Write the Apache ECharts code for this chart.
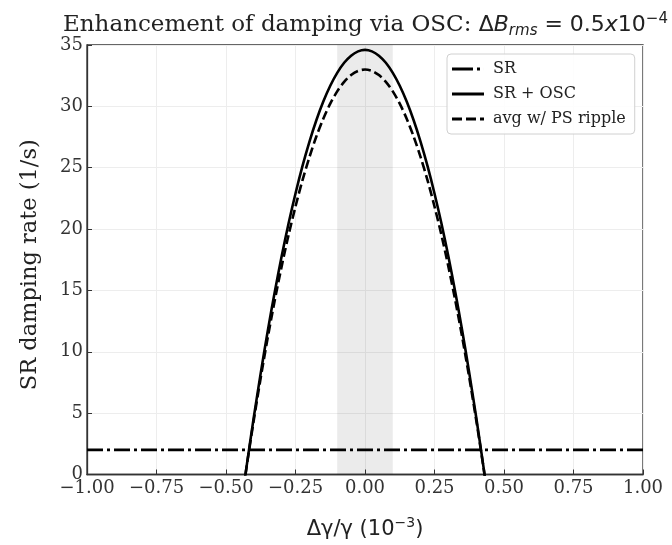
<!DOCTYPE html>
<html>
<head>
<meta charset="utf-8">
<script src="https://cdn.jsdelivr.net/npm/echarts@6/dist/echarts.min.js"></script>
<style>
html,body{margin:0;padding:0;background:#fff;}
#chart{width:672px;height:545px;}
</style>
</head>
<body>
<div id="chart"></div>
<script>
// ---- data ----
var xValues = [-0.45,-0.425,-0.4,-0.375,-0.35,-0.325,-0.3,-0.275,-0.25,-0.225,-0.2,-0.175,-0.15,-0.125,-0.1,-0.075,-0.05,-0.025,0,
  0.025,0.05,0.075,0.1,0.125,0.15,0.175,0.2,0.225,0.25,0.275,0.3,0.325,0.35,0.375,0.4,0.425,0.45];
var srOscValues = [-3.29,0.80,4.66,8.28,11.68,14.83,17.76,20.45,22.90,25.13,27.11,28.87,30.39,31.68,32.73,33.55,34.13,34.48,34.6,
  34.48,34.13,33.55,32.73,31.68,30.39,28.87,27.11,25.13,22.90,20.45,17.76,14.83,11.68,8.28,4.66,0.80,-3.29];
var avgRippleValues = [-3.14,0.76,4.44,7.90,11.14,14.15,16.94,19.51,21.84,23.97,25.86,27.54,28.99,30.22,31.22,32.00,32.55,32.89,33.0,
  32.89,32.55,32.00,31.22,30.22,28.99,27.54,25.86,23.97,21.84,19.51,16.94,14.15,11.14,7.90,4.44,0.76,-3.14];
var srX = [-1, 1];
var srValues = [2, 2];
var bandRange = [-0.1, 0.1];
var seriesNames = ['SR', 'SR + OSC', 'avg w/ PS ripple'];
var xTicks = {min: -1, max: 1, step: 0.25};
var yTicks = {min: 0, max: 35, step: 5};

function pairs(xs, ys){ return xs.map(function(x,i){ return [x, ys[i]]; }); }

var chart = echarts.init(document.getElementById('chart'), null, {renderer:'canvas'});
var serif = 'DejaVu Serif';
var sans = 'DejaVu Sans';

// legend glyphs (line-style samples)
var iconDashDot = 'path://M0,0H21V3H0Z M25,0H28V3H25Z M32,0H32.01V3H32Z';
var iconSolid = 'path://M0,0H32V3H0Z';
var iconDashed = 'path://M0,0H10V3H0Z M14,0H24V3H14Z M28,0H32V3H28Z';

var option = {
  backgroundColor: '#fff',
  animation: false,
  title: {
    left: 58,
    top: 7,
    text: '{a|Enhancement of damping via OSC: }{m|Δ}{i|B}{s|rms}{m| = 0.5}{i|x}{m|10}{p|−4}',
    textStyle: {
      fontWeight: 'normal',
      rich: {
        a: {fontFamily: serif, fontSize: 23, color: '#222', fontWeight: 'normal'},
        m: {fontFamily: sans, fontSize: 22, color: '#222', fontWeight: 'normal', fontStyle: 'normal'},
        i: {fontFamily: sans, fontSize: 22, color: '#222', fontWeight: 'normal', fontStyle: 'italic'},
        s: {fontFamily: sans, fontSize: 15, color: '#222', fontWeight: 'normal', fontStyle: 'italic', padding: [12,0,0,0]},
        p: {fontFamily: sans, fontSize: 15, color: '#222', fontWeight: 'normal', padding: [0,0,12,0]}
      }
    }
  },
  grid: {left: 87, right: 29, top: 45, bottom: 68, show: true, borderColor: '#333', borderWidth: 1.3, backgroundColor: 'transparent'},
  legend: {
    data: [
      {name: seriesNames[0], icon: iconDashDot},
      {name: seriesNames[1], icon: iconSolid},
      {name: seriesNames[2], icon: iconDashed}
    ],
    orient: 'vertical',
    left: 447,
    top: 54,
    itemWidth: 32,
    itemHeight: 3,
    itemGap: 9,
    padding: [7, 9, 7, 5],
    borderColor: '#d0d0d0',
    borderWidth: 1,
    borderRadius: 4,
    backgroundColor: 'rgba(255,255,255,0.85)',
    textStyle: {fontFamily: serif, fontSize: 16, color: '#222', padding: [0,0,0,4]}
  },
  xAxis: {
    type: 'value',
    min: xTicks.min, max: xTicks.max, interval: xTicks.step,
    name: '{m|Δγ/γ (10}{p|−3}{m|)}',
    nameLocation: 'middle',
    nameGap: 42,
    nameTextStyle: {
      rich: {
        m: {fontFamily: sans, fontSize: 21, color: '#222'},
        p: {fontFamily: sans, fontSize: 14, color: '#222', padding: [0,0,12,0]}
      }
    },
    axisLine: {show: true, onZero: false, lineStyle: {color: '#333', width: 1.3}},
    axisTick: {show: true, inside: true, length: 5, lineStyle: {color: '#333'}},
    axisLabel: {
      fontFamily: serif, fontSize: 18, color: '#333', margin: 5,
      formatter: function(v){ return (v < 0 ? '\u2212' : '') + Math.abs(v).toFixed(2); }
    },
    splitLine: {show: true, lineStyle: {color: '#ededed', width: 1}}
  },
  yAxis: {
    type: 'value',
    min: yTicks.min, max: yTicks.max, interval: yTicks.step,
    name: 'SR damping rate (1/s)',
    nameLocation: 'middle',
    nameGap: 45,
    nameTextStyle: {fontFamily: serif, fontSize: 22.5, color: '#222', padding: [0, 10, 0, 0]},
    axisLine: {show: true, onZero: false, lineStyle: {color: '#333', width: 1.3}},
    axisTick: {show: true, inside: true, length: 5, lineStyle: {color: '#333'}},
    axisLabel: {fontFamily: serif, fontSize: 18, color: '#333', margin: 4},
    splitLine: {show: true, lineStyle: {color: '#ededed', width: 1}}
  },
  series: [
    {
      name: seriesNames[0],
      type: 'line',
      data: pairs(srX, srValues),
      symbol: 'none',
      lineStyle: {color: '#000', width: 2.8, type: [16, 4, 3, 4]},
      itemStyle: {color: '#000'},
      z: 3
    },
    {
      name: seriesNames[1],
      type: 'line',
      data: pairs(xValues, srOscValues),
      symbol: 'none',
      smooth: 0.3,
      lineStyle: {color: '#000', width: 2.6, type: 'solid'},
      itemStyle: {color: '#000'},
      markArea: {
        silent: true,
        itemStyle: {color: 'rgba(0,0,0,0.08)'},
        data: [[{xAxis: bandRange[0]}, {xAxis: bandRange[1]}]]
      },
      z: 4
    },
    {
      name: seriesNames[2],
      type: 'line',
      data: pairs(xValues, avgRippleValues),
      symbol: 'none',
      smooth: 0.3,
      lineStyle: {color: '#000', width: 2.6, type: [9, 4]},
      itemStyle: {color: '#000'},
      z: 4
    }
  ]
};
chart.setOption(option);
</script>
</body>
</html>
